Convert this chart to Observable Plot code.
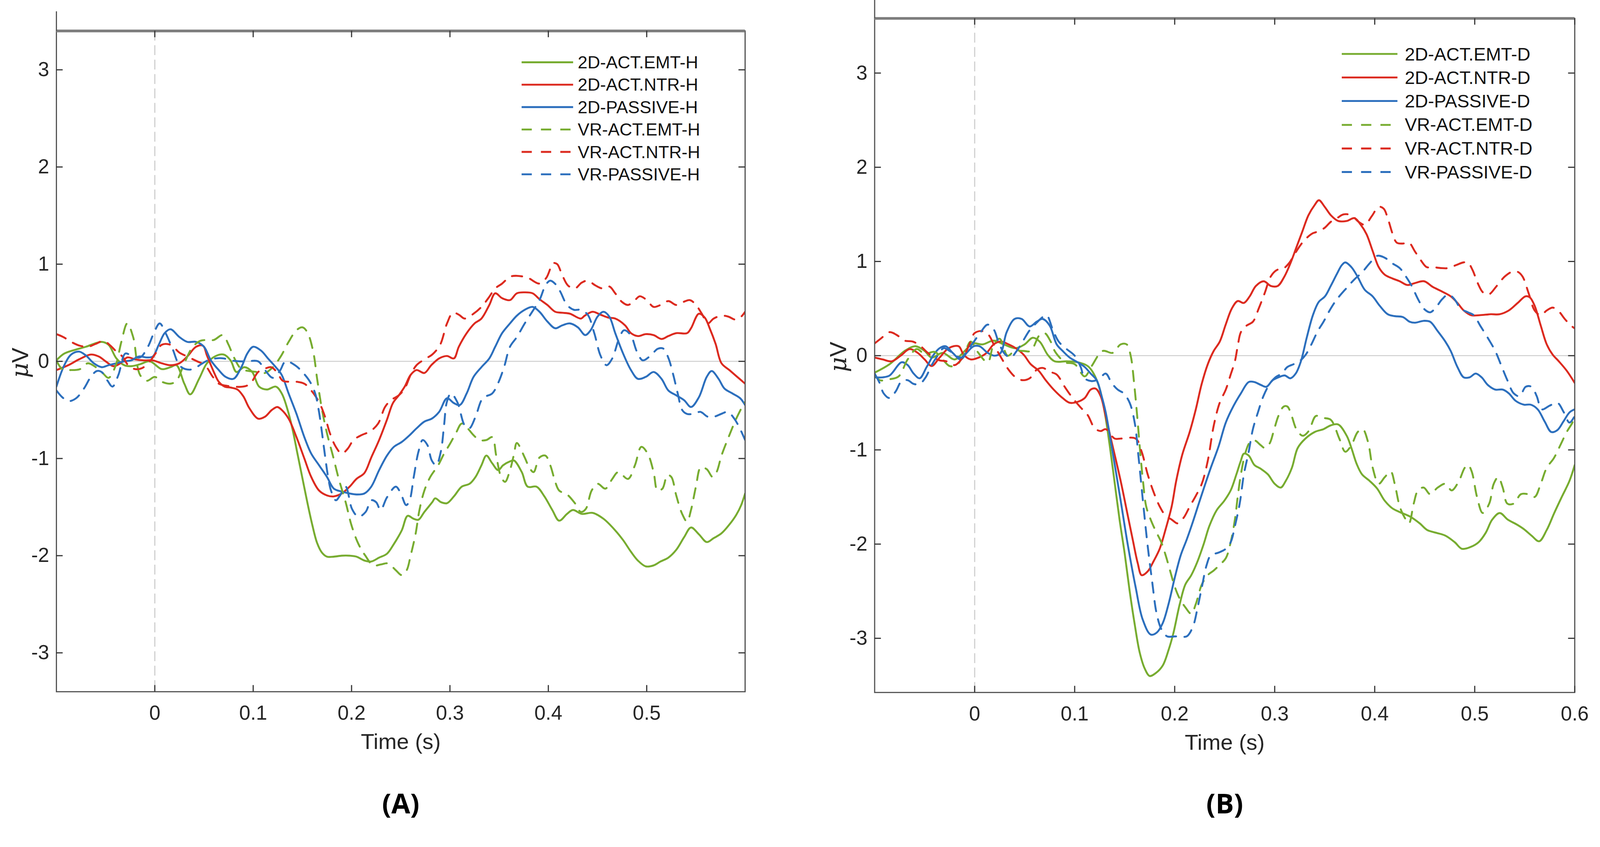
<!DOCTYPE html>
<html>
<head>
<meta charset="utf-8">
<script src="https://cdn.jsdelivr.net/npm/d3@7"></script>
<script src="https://cdn.jsdelivr.net/npm/@observablehq/plot@0.6"></script>
<style>
html, body { margin: 0; padding: 0; background: #fff; overflow: hidden; }
#wrap { position: relative; width: 4212px; height: 2169px; overflow: hidden; background: #fff; transform-origin: 0 0; }
.panel { position: absolute; top: 0; max-width: none !important; }
.legend { position: absolute; font-family: "Liberation Sans", Arial, sans-serif; color: #111; }
.legend .row { display: flex; align-items: center; white-space: nowrap; }
</style>
</head>
<body>
<div id="wrap"></div>
<script>
// ---------------- DATA (time in s, amplitude in µV) ----------------
const seriesNamesA = ["2D-ACT.EMT-H","2D-ACT.NTR-H","2D-PASSIVE-H","VR-ACT.EMT-H","VR-ACT.NTR-H","VR-PASSIVE-H"];
const seriesNamesB = ["2D-ACT.EMT-D","2D-ACT.NTR-D","2D-PASSIVE-D","VR-ACT.EMT-D","VR-ACT.NTR-D","VR-PASSIVE-D"];
const xTicksA = [0, 0.1, 0.2, 0.3, 0.4, 0.5];
const xTicksB = [0, 0.1, 0.2, 0.3, 0.4, 0.5, 0.6];
const yTicks = [-3, -2, -1, 0, 1, 2, 3];

const A_2D_EMT = [[-0.1,0.01],[-0.092,0.08],[-0.077,0.13],[-0.07,0.15],[-0.054,0.2],[-0.047,0.17],[-0.039,0.03],[-0.031,-0.04],[-0.024,-0.05],[-0.015,-0.03],[-0.005,0.0],[0.007,-0.08],[0.016,-0.06],[0.022,-0.04],[0.03,-0.23],[0.036,-0.34],[0.045,-0.18],[0.053,-0.02],[0.062,0.055],[0.07,0.07],[0.077,0.01],[0.083,-0.11],[0.091,-0.06],[0.099,-0.11],[0.106,-0.26],[0.114,-0.29],[0.123,-0.26],[0.129,-0.33],[0.135,-0.5],[0.14,-0.7],[0.145,-0.95],[0.15,-1.2],[0.155,-1.45],[0.16,-1.68],[0.165,-1.87],[0.17,-1.97],[0.175,-2.01],[0.182,-2.01],[0.19,-2.0],[0.198,-2.0],[0.205,-2.01],[0.213,-2.05],[0.22,-2.06],[0.228,-2.02],[0.236,-1.98],[0.243,-1.88],[0.251,-1.74],[0.257,-1.59],[0.263,-1.62],[0.268,-1.63],[0.274,-1.55],[0.282,-1.45],[0.285,-1.41],[0.291,-1.45],[0.297,-1.46],[0.304,-1.39],[0.312,-1.29],[0.32,-1.26],[0.326,-1.19],[0.332,-1.07],[0.337,-0.97],[0.343,-1.05],[0.349,-1.12],[0.354,-1.07],[0.361,-1.03],[0.365,-1.02],[0.373,-1.14],[0.379,-1.29],[0.388,-1.29],[0.396,-1.39],[0.404,-1.53],[0.411,-1.64],[0.419,-1.57],[0.425,-1.53],[0.434,-1.57],[0.445,-1.56],[0.456,-1.62],[0.468,-1.74],[0.476,-1.84],[0.484,-1.96],[0.491,-2.05],[0.499,-2.11],[0.507,-2.1],[0.514,-2.06],[0.522,-2.02],[0.53,-1.94],[0.538,-1.81],[0.545,-1.71],[0.553,-1.78],[0.561,-1.86],[0.568,-1.82],[0.576,-1.77],[0.584,-1.68],[0.591,-1.58],[0.596,-1.48],[0.6,-1.36]];

const A_2D_NTR = [[-0.1,-0.09],[-0.088,-0.04],[-0.077,0.02],[-0.065,0.07],[-0.057,0.05],[-0.05,0.0],[-0.042,-0.05],[-0.035,-0.02],[-0.028,0.04],[-0.02,0.02],[-0.011,0.01],[-0.002,0.01],[0.007,-0.02],[0.016,-0.04],[0.025,-0.02],[0.033,0.05],[0.042,0.15],[0.049,0.16],[0.053,0.06],[0.06,-0.11],[0.065,-0.21],[0.071,-0.26],[0.077,-0.27],[0.084,-0.29],[0.09,-0.36],[0.096,-0.48],[0.105,-0.59],[0.112,-0.57],[0.119,-0.5],[0.1245,-0.47],[0.129,-0.5],[0.136,-0.59],[0.144,-0.78],[0.152,-1.0],[0.159,-1.19],[0.167,-1.33],[0.175,-1.38],[0.182,-1.39],[0.19,-1.36],[0.198,-1.29],[0.205,-1.21],[0.213,-1.15],[0.22,-0.99],[0.228,-0.81],[0.236,-0.6],[0.242,-0.43],[0.248,-0.35],[0.254,-0.26],[0.26,-0.14],[0.266,-0.09],[0.274,-0.12],[0.281,-0.04],[0.289,0.03],[0.297,0.055],[0.304,0.03],[0.309,0.15],[0.317,0.29],[0.325,0.39],[0.332,0.44],[0.34,0.58],[0.346,0.7],[0.353,0.65],[0.361,0.63],[0.368,0.7],[0.376,0.71],[0.384,0.7],[0.391,0.64],[0.399,0.58],[0.407,0.51],[0.414,0.5],[0.422,0.49],[0.433,0.44],[0.437,0.47],[0.445,0.51],[0.453,0.48],[0.461,0.45],[0.468,0.44],[0.478,0.37],[0.484,0.29],[0.491,0.26],[0.499,0.28],[0.507,0.27],[0.515,0.23],[0.522,0.26],[0.53,0.29],[0.541,0.29],[0.545,0.34],[0.553,0.49],[0.559,0.45],[0.564,0.34],[0.57,0.18],[0.576,-0.02],[0.584,-0.09],[0.592,-0.16],[0.6,-0.23]];

const A_2D_PAS = [[-0.1,-0.26],[-0.092,-0.04],[-0.085,0.07],[-0.077,0.1],[-0.07,0.06],[-0.062,-0.02],[-0.054,-0.06],[-0.047,-0.04],[-0.039,-0.02],[-0.031,0.0],[-0.024,0.01],[-0.016,0.05],[-0.008,0.04],[-0.002,0.05],[0.004,0.17],[0.01,0.29],[0.016,0.33],[0.025,0.25],[0.033,0.2],[0.042,0.2],[0.05,0.15],[0.057,0.01],[0.065,-0.09],[0.072,-0.16],[0.08,-0.18],[0.088,-0.06],[0.094,0.08],[0.1,0.15],[0.108,0.11],[0.115,0.03],[0.123,-0.06],[0.129,-0.14],[0.136,-0.33],[0.144,-0.54],[0.152,-0.78],[0.159,-0.95],[0.167,-1.07],[0.175,-1.19],[0.182,-1.31],[0.19,-1.34],[0.198,-1.36],[0.205,-1.37],[0.213,-1.36],[0.22,-1.29],[0.228,-1.12],[0.236,-0.97],[0.243,-0.88],[0.251,-0.83],[0.259,-0.76],[0.266,-0.69],[0.274,-0.62],[0.2815,-0.59],[0.289,-0.52],[0.297,-0.38],[0.304,-0.43],[0.31,-0.45],[0.317,-0.33],[0.324,-0.16],[0.332,-0.06],[0.34,0.03],[0.346,0.15],[0.353,0.29],[0.361,0.39],[0.368,0.47],[0.376,0.53],[0.384,0.56],[0.391,0.51],[0.399,0.41],[0.407,0.34],[0.414,0.37],[0.422,0.39],[0.43,0.35],[0.4375,0.27],[0.443,0.32],[0.45,0.46],[0.456,0.51],[0.462,0.46],[0.468,0.29],[0.476,0.08],[0.484,-0.09],[0.491,-0.18],[0.499,-0.16],[0.507,-0.11],[0.515,-0.18],[0.522,-0.3],[0.53,-0.35],[0.538,-0.4],[0.545,-0.47],[0.553,-0.37],[0.561,-0.16],[0.566,-0.1],[0.573,-0.18],[0.579,-0.28],[0.587,-0.33],[0.595,-0.38],[0.6,-0.45]];

const A_VR_EMT = [[-0.1,0.01],[-0.094,-0.08],[-0.085,-0.09],[-0.076,-0.08],[-0.068,-0.02],[-0.06,-0.06],[-0.053,-0.12],[-0.047,-0.17],[-0.04,-0.05],[-0.034,0.2],[-0.028,0.39],[-0.022,0.25],[-0.015,-0.14],[-0.008,-0.2],[0.0,-0.16],[0.007,-0.21],[0.016,-0.23],[0.022,-0.2],[0.03,-0.02],[0.038,0.14],[0.046,0.21],[0.053,0.22],[0.06,0.22],[0.069,0.27],[0.075,0.17],[0.08,0.05],[0.088,-0.08],[0.096,-0.1],[0.104,-0.11],[0.112,-0.12],[0.12,-0.06],[0.128,0.05],[0.136,0.2],[0.144,0.32],[0.15,0.35],[0.155,0.3],[0.161,0.1],[0.165,-0.18],[0.17,-0.5],[0.175,-0.74],[0.181,-0.97],[0.187,-1.21],[0.194,-1.45],[0.2,-1.69],[0.207,-1.88],[0.214,-2.0],[0.222,-2.1],[0.23,-2.09],[0.237,-2.08],[0.245,-2.15],[0.251,-2.2],[0.256,-2.15],[0.26,-2.0],[0.265,-1.78],[0.269,-1.53],[0.274,-1.33],[0.28,-1.19],[0.288,-1.07],[0.294,-0.95],[0.3,-0.85],[0.306,-0.74],[0.312,-0.64],[0.318,-0.69],[0.324,-0.76],[0.33,-0.81],[0.337,-0.81],[0.343,-0.78],[0.347,-0.97],[0.352,-1.19],[0.356,-1.24],[0.361,-1.12],[0.365,-0.96],[0.368,-0.84],[0.376,-0.99],[0.3805,-1.09],[0.385,-1.14],[0.391,-0.99],[0.397,-0.97],[0.402,-1.07],[0.407,-1.24],[0.411,-1.33],[0.419,-1.37],[0.427,-1.46],[0.433,-1.55],[0.438,-1.52],[0.444,-1.33],[0.45,-1.26],[0.458,-1.31],[0.465,-1.21],[0.471,-1.14],[0.481,-1.21],[0.488,-1.07],[0.4945,-0.88],[0.501,-0.95],[0.507,-1.14],[0.511,-1.33],[0.516,-1.31],[0.521,-1.17],[0.525,-1.19],[0.53,-1.38],[0.536,-1.57],[0.541,-1.65],[0.545,-1.53],[0.55,-1.29],[0.555,-1.09],[0.561,-1.11],[0.567,-1.19],[0.571,-1.14],[0.576,-0.97],[0.584,-0.76],[0.591,-0.59],[0.598,-0.45],[0.6,-0.42]];

const A_VR_NTR = [[-0.1,0.28],[-0.093,0.25],[-0.085,0.2],[-0.076,0.16],[-0.068,0.15],[-0.06,0.18],[-0.052,0.21],[-0.045,0.16],[-0.039,0.1],[-0.033,0.05],[-0.027,-0.04],[-0.02,-0.08],[-0.013,-0.07],[-0.005,0.0],[0.002,0.1],[0.007,0.17],[0.016,0.17],[0.025,0.09],[0.033,0.05],[0.043,0.0],[0.051,-0.04],[0.059,-0.16],[0.065,-0.23],[0.072,-0.25],[0.08,-0.26],[0.09,-0.26],[0.097,-0.23],[0.105,-0.11],[0.111,-0.08],[0.118,-0.06],[0.124,-0.11],[0.13,-0.2],[0.136,-0.21],[0.144,-0.21],[0.152,-0.23],[0.159,-0.3],[0.167,-0.42],[0.173,-0.57],[0.178,-0.74],[0.184,-0.88],[0.19,-0.95],[0.196,-0.9],[0.202,-0.81],[0.21,-0.76],[0.219,-0.72],[0.227,-0.64],[0.234,-0.47],[0.24,-0.4],[0.248,-0.35],[0.254,-0.28],[0.26,-0.14],[0.266,-0.04],[0.274,0.02],[0.282,0.07],[0.29,0.17],[0.297,0.39],[0.303,0.5],[0.309,0.48],[0.315,0.44],[0.324,0.49],[0.332,0.56],[0.339,0.65],[0.346,0.75],[0.353,0.8],[0.361,0.87],[0.368,0.88],[0.379,0.86],[0.391,0.8],[0.398,0.86],[0.405,1.01],[0.409,1.0],[0.414,0.89],[0.42,0.78],[0.427,0.75],[0.434,0.81],[0.44,0.83],[0.448,0.78],[0.455,0.75],[0.462,0.77],[0.468,0.7],[0.475,0.61],[0.481,0.58],[0.488,0.63],[0.493,0.67],[0.5,0.63],[0.507,0.56],[0.514,0.58],[0.522,0.62],[0.53,0.58],[0.537,0.61],[0.544,0.63],[0.55,0.58],[0.556,0.49],[0.562,0.39],[0.568,0.44],[0.576,0.47],[0.583,0.46],[0.59,0.43],[0.596,0.46],[0.6,0.51]];

const A_VR_PAS = [[-0.1,-0.3],[-0.094,-0.37],[-0.088,-0.41],[-0.08,-0.38],[-0.072,-0.28],[-0.065,-0.16],[-0.059,-0.1],[-0.054,-0.11],[-0.048,-0.2],[-0.043,-0.26],[-0.037,-0.14],[-0.03,0.08],[-0.024,0.06],[-0.015,0.04],[-0.007,0.15],[-0.001,0.29],[0.005,0.39],[0.011,0.29],[0.018,0.13],[0.025,-0.04],[0.031,-0.08],[0.039,-0.08],[0.047,-0.03],[0.054,0.01],[0.062,0.03],[0.07,0.03],[0.077,0.01],[0.086,0.0],[0.094,0.0],[0.105,0.0],[0.112,-0.09],[0.12,-0.17],[0.127,-0.1],[0.133,0.0],[0.1425,-0.04],[0.15,-0.11],[0.1577,-0.21],[0.163,-0.33],[0.1669,-0.52],[0.17,-0.74],[0.173,-0.97],[0.176,-1.18],[0.1791,-1.33],[0.184,-1.43],[0.1883,-1.38],[0.194,-1.29],[0.2005,-1.52],[0.207,-1.6],[0.2143,-1.55],[0.22,-1.43],[0.225,-1.45],[0.2295,-1.53],[0.236,-1.4],[0.245,-1.29],[0.25,-1.36],[0.2555,-1.48],[0.259,-1.43],[0.2632,-1.19],[0.268,-0.93],[0.2723,-0.81],[0.277,-0.86],[0.2815,-1.02],[0.286,-1.07],[0.2907,-0.93],[0.294,-0.66],[0.2968,-0.42],[0.301,-0.33],[0.3075,-0.42],[0.315,-0.66],[0.3197,-0.69],[0.326,-0.57],[0.3334,-0.38],[0.343,-0.33],[0.3487,-0.23],[0.355,-0.06],[0.361,0.15],[0.368,0.25],[0.376,0.39],[0.3836,0.51],[0.391,0.63],[0.3975,0.79],[0.402,0.83],[0.4067,0.8],[0.412,0.72],[0.419,0.58],[0.426,0.53],[0.4329,0.53],[0.44,0.48],[0.4467,0.29],[0.453,0.06],[0.4591,-0.04],[0.465,0.03],[0.4714,0.22],[0.477,0.32],[0.4837,0.27],[0.49,0.1],[0.496,0.01],[0.504,0.06],[0.5114,0.13],[0.517,0.13],[0.5222,0.03],[0.527,-0.14],[0.5315,-0.33],[0.536,-0.5],[0.5407,-0.54],[0.548,-0.54],[0.5545,-0.52],[0.562,-0.57],[0.5684,-0.57],[0.576,-0.54],[0.5823,-0.52],[0.589,-0.59],[0.5946,-0.69],[0.6,-0.81]];

const B_2D_EMT = [[-0.1,-0.18],[-0.085,-0.09],[-0.07,0.05],[-0.059,0.1],[-0.05,0.05],[-0.043,-0.02],[-0.032,0.03],[-0.02,-0.04],[-0.01,0.05],[-0.002,0.13],[0.008,0.12],[0.019,0.16],[0.029,0.12],[0.041,0.08],[0.05,0.12],[0.058,0.19],[0.065,0.15],[0.073,0.01],[0.08,-0.06],[0.092,-0.06],[0.103,-0.07],[0.113,-0.11],[0.119,-0.19],[0.125,-0.35],[0.13,-0.6],[0.135,-0.95],[0.14,-1.35],[0.145,-1.75],[0.15,-2.1],[0.155,-2.5],[0.16,-2.85],[0.165,-3.15],[0.17,-3.32],[0.175,-3.4],[0.181,-3.37],[0.188,-3.29],[0.194,-3.12],[0.1986,-2.95],[0.205,-2.64],[0.2106,-2.43],[0.2166,-2.33],[0.2226,-2.19],[0.229,-2.0],[0.2346,-1.81],[0.242,-1.64],[0.2496,-1.54],[0.256,-1.43],[0.2617,-1.26],[0.266,-1.12],[0.2692,-1.04],[0.274,-1.06],[0.2797,-1.16],[0.286,-1.2],[0.2932,-1.26],[0.3,-1.36],[0.306,-1.4],[0.311,-1.33],[0.3172,-1.19],[0.323,-0.98],[0.3307,-0.88],[0.34,-0.81],[0.3488,-0.78],[0.356,-0.74],[0.3635,-0.73],[0.372,-0.85],[0.3767,-0.98],[0.382,-1.15],[0.3873,-1.26],[0.395,-1.33],[0.4024,-1.41],[0.41,-1.54],[0.4176,-1.62],[0.425,-1.66],[0.4357,-1.71],[0.445,-1.78],[0.4524,-1.85],[0.4615,-1.88],[0.4706,-1.91],[0.48,-1.98],[0.4872,-2.05],[0.496,-2.03],[0.5039,-1.98],[0.511,-1.88],[0.5175,-1.74],[0.525,-1.67],[0.533,-1.74],[0.5417,-1.79],[0.549,-1.84],[0.5568,-1.91],[0.5644,-1.97],[0.572,-1.85],[0.5795,-1.67],[0.587,-1.5],[0.5947,-1.33],[0.6,-1.16]];

const B_2D_NTR = [[-0.1,-0.02],[-0.092,-0.04],[-0.083,-0.06],[-0.074,0.0],[-0.065,0.07],[-0.057,0.03],[-0.05,-0.04],[-0.043,-0.11],[-0.035,-0.02],[-0.026,0.08],[-0.016,0.1],[-0.011,0.01],[-0.004,-0.04],[0.004,-0.02],[0.012,0.03],[0.019,0.12],[0.026,0.15],[0.034,0.12],[0.041,0.08],[0.049,0.01],[0.056,-0.09],[0.064,-0.16],[0.071,-0.26],[0.079,-0.36],[0.088,-0.45],[0.095,-0.5],[0.103,-0.49],[0.11,-0.45],[0.116,-0.36],[0.121,-0.35],[0.126,-0.43],[0.131,-0.64],[0.136,-0.87],[0.146,-1.33],[0.152,-1.64],[0.158,-1.95],[0.163,-2.2],[0.167,-2.33],[0.173,-2.29],[0.179,-2.18],[0.185,-2.05],[0.191,-1.84],[0.197,-1.6],[0.2015,-1.33],[0.2076,-1.05],[0.215,-0.81],[0.2211,-0.57],[0.227,-0.3],[0.2331,-0.09],[0.239,0.05],[0.2451,0.15],[0.251,0.33],[0.2571,0.5],[0.263,0.58],[0.2692,0.56],[0.275,0.63],[0.2812,0.74],[0.289,0.79],[0.2962,0.74],[0.303,0.74],[0.3097,0.84],[0.3157,0.98],[0.3217,1.15],[0.3277,1.32],[0.3337,1.49],[0.34,1.6],[0.3442,1.65],[0.35,1.58],[0.3562,1.49],[0.3635,1.43],[0.372,1.43],[0.3797,1.46],[0.386,1.39],[0.3918,1.29],[0.398,1.11],[0.404,0.94],[0.41,0.86],[0.4176,0.82],[0.425,0.79],[0.4327,0.75],[0.44,0.77],[0.4494,0.79],[0.458,0.73],[0.4675,0.68],[0.476,0.63],[0.4827,0.56],[0.489,0.48],[0.4963,0.43],[0.505,0.43],[0.516,0.44],[0.525,0.44],[0.5341,0.48],[0.543,0.56],[0.5508,0.63],[0.555,0.62],[0.5599,0.53],[0.566,0.32],[0.572,0.12],[0.578,0.01],[0.5841,-0.06],[0.592,-0.16],[0.6,-0.29]];

const B_2D_PAS = [[-0.1,-0.23],[-0.092,-0.23],[-0.085,-0.21],[-0.073,-0.07],[-0.067,-0.1],[-0.061,-0.19],[-0.055,-0.24],[-0.048,-0.12],[-0.041,0.01],[-0.035,0.08],[-0.029,0.1],[-0.022,0.03],[-0.014,-0.04],[-0.008,0.03],[-0.001,0.1],[0.005,0.1],[0.013,0.03],[0.02,0.0],[0.026,0.03],[0.032,0.25],[0.04,0.39],[0.047,0.39],[0.055,0.31],[0.062,0.36],[0.068,0.39],[0.075,0.32],[0.082,0.12],[0.088,0.05],[0.095,-0.02],[0.103,-0.07],[0.11,-0.12],[0.116,-0.19],[0.122,-0.26],[0.127,-0.43],[0.131,-0.6],[0.136,-0.9],[0.146,-1.54],[0.153,-2.0],[0.161,-2.46],[0.168,-2.8],[0.176,-2.96],[0.182,-2.94],[0.188,-2.84],[0.194,-2.63],[0.2,-2.36],[0.206,-2.12],[0.2121,-1.95],[0.218,-1.77],[0.2241,-1.57],[0.23,-1.38],[0.2361,-1.19],[0.244,-0.96],[0.2511,-0.71],[0.259,-0.53],[0.2662,-0.4],[0.274,-0.28],[0.2797,-0.28],[0.286,-0.31],[0.2917,-0.33],[0.298,-0.26],[0.3037,-0.23],[0.31,-0.21],[0.3157,-0.24],[0.321,-0.19],[0.3262,-0.06],[0.332,0.19],[0.3382,0.43],[0.344,0.57],[0.3503,0.63],[0.356,0.74],[0.3623,0.87],[0.367,0.96],[0.3706,0.99],[0.3767,0.94],[0.3828,0.84],[0.39,0.7],[0.3979,0.63],[0.405,0.53],[0.413,0.44],[0.42,0.42],[0.4282,0.41],[0.435,0.36],[0.4403,0.35],[0.449,0.37],[0.4554,0.36],[0.463,0.26],[0.4706,0.15],[0.476,0.05],[0.4827,-0.12],[0.489,-0.23],[0.4948,-0.23],[0.501,-0.19],[0.5069,-0.23],[0.513,-0.31],[0.5205,-0.36],[0.528,-0.36],[0.5341,-0.4],[0.541,-0.48],[0.5493,-0.52],[0.556,-0.52],[0.563,-0.57],[0.57,-0.7],[0.5765,-0.81],[0.5826,-0.79],[0.5886,-0.7],[0.595,-0.6],[0.6,-0.57]];

const B_VR_EMT = [[-0.1,-0.2],[-0.095,-0.26],[-0.085,-0.25],[-0.076,-0.22],[-0.067,-0.04],[-0.058,0.07],[-0.05,0.02],[-0.04,0.04],[-0.032,-0.04],[-0.025,-0.11],[-0.018,-0.1],[-0.01,0.03],[-0.004,0.15],[0.003,0.04],[0.013,-0.07],[0.019,0.12],[0.025,0.18],[0.033,0.0],[0.04,0.05],[0.049,0.05],[0.056,0.05],[0.065,0.22],[0.07,0.24],[0.076,0.15],[0.08,0.05],[0.085,-0.02],[0.09,-0.07],[0.1,-0.09],[0.11,-0.22],[0.117,-0.11],[0.128,0.05],[0.138,0.03],[0.146,0.12],[0.152,0.12],[0.156,0.0],[0.1595,-0.3],[0.1625,-0.64],[0.1655,-1.02],[0.1685,-1.35],[0.1715,-1.6],[0.176,-1.74],[0.181,-1.86],[0.1866,-1.98],[0.191,-2.12],[0.1956,-2.29],[0.2,-2.45],[0.2046,-2.57],[0.2106,-2.67],[0.2166,-2.74],[0.221,-2.64],[0.2271,-2.43],[0.233,-2.33],[0.2391,-2.28],[0.245,-2.22],[0.2511,-2.15],[0.256,-1.98],[0.2602,-1.74],[0.263,-1.5],[0.2662,-1.26],[0.271,-1.02],[0.2752,-0.92],[0.28,-0.9],[0.286,-0.95],[0.2902,-0.98],[0.295,-0.93],[0.299,-0.8],[0.3037,-0.64],[0.309,-0.54],[0.3127,-0.54],[0.317,-0.64],[0.3217,-0.78],[0.328,-0.85],[0.334,-0.8],[0.3412,-0.64],[0.348,-0.66],[0.356,-0.68],[0.3646,-0.88],[0.3706,-1.02],[0.3767,-0.95],[0.383,-0.81],[0.388,-0.78],[0.3934,-0.92],[0.398,-1.19],[0.404,-1.36],[0.41,-1.29],[0.416,-1.23],[0.42,-1.36],[0.425,-1.6],[0.43,-1.72],[0.4342,-1.78],[0.439,-1.57],[0.4433,-1.43],[0.449,-1.4],[0.4554,-1.47],[0.463,-1.4],[0.4706,-1.36],[0.477,-1.43],[0.4842,-1.33],[0.49,-1.19],[0.4933,-1.16],[0.497,-1.23],[0.5023,-1.5],[0.508,-1.67],[0.5145,-1.57],[0.519,-1.36],[0.5235,-1.29],[0.528,-1.4],[0.5326,-1.57],[0.539,-1.57],[0.5462,-1.47],[0.553,-1.47],[0.5599,-1.5],[0.566,-1.36],[0.572,-1.19],[0.579,-1.09],[0.5856,-0.95],[0.592,-0.81],[0.5977,-0.71],[0.6,-0.64]];

const B_VR_NTR = [[-0.1,0.13],[-0.094,0.18],[-0.085,0.25],[-0.078,0.22],[-0.07,0.16],[-0.062,0.15],[-0.055,0.11],[-0.048,0.04],[-0.041,-0.02],[-0.035,-0.05],[-0.028,-0.06],[-0.02,-0.1],[-0.012,-0.02],[-0.006,0.1],[0.0,0.24],[0.008,0.26],[0.014,0.22],[0.02,0.1],[0.027,-0.03],[0.034,-0.15],[0.041,-0.23],[0.048,-0.26],[0.055,-0.24],[0.062,-0.15],[0.068,-0.13],[0.075,-0.17],[0.082,-0.2],[0.09,-0.33],[0.098,-0.45],[0.106,-0.55],[0.113,-0.63],[0.12,-0.77],[0.126,-0.8],[0.131,-0.78],[0.14,-0.88],[0.146,-0.88],[0.161,-0.88],[0.167,-1.02],[0.173,-1.26],[0.179,-1.45],[0.185,-1.6],[0.191,-1.7],[0.197,-1.74],[0.203,-1.78],[0.209,-1.72],[0.2151,-1.6],[0.221,-1.49],[0.2271,-1.36],[0.233,-1.12],[0.2391,-0.74],[0.245,-0.5],[0.2511,-0.36],[0.256,-0.2],[0.2602,-0.06],[0.263,0.1],[0.2662,0.25],[0.272,0.32],[0.2782,0.36],[0.284,0.5],[0.2902,0.67],[0.296,0.84],[0.3022,0.91],[0.308,0.92],[0.3142,0.98],[0.32,1.08],[0.3262,1.18],[0.332,1.25],[0.3382,1.3],[0.344,1.32],[0.3503,1.36],[0.356,1.42],[0.3623,1.46],[0.369,1.5],[0.3767,1.49],[0.384,1.42],[0.3903,1.39],[0.397,1.48],[0.404,1.58],[0.409,1.56],[0.413,1.46],[0.418,1.29],[0.422,1.2],[0.428,1.19],[0.4342,1.2],[0.44,1.11],[0.4463,1.01],[0.452,0.94],[0.4584,0.94],[0.466,0.93],[0.4736,0.93],[0.481,0.96],[0.4887,0.99],[0.493,0.99],[0.4978,0.91],[0.503,0.77],[0.5084,0.67],[0.514,0.65],[0.522,0.74],[0.53,0.84],[0.5372,0.89],[0.543,0.89],[0.5478,0.84],[0.554,0.66],[0.5599,0.48],[0.566,0.43],[0.572,0.48],[0.578,0.51],[0.5841,0.47],[0.59,0.39],[0.5962,0.32],[0.6,0.29]];

const B_VR_PAS = [[-0.1,-0.19],[-0.095,-0.29],[-0.091,-0.4],[-0.085,-0.45],[-0.079,-0.38],[-0.073,-0.27],[-0.067,-0.26],[-0.061,-0.3],[-0.055,-0.3],[-0.049,-0.23],[-0.043,-0.1],[-0.037,0.0],[-0.031,0.08],[-0.025,0.05],[-0.019,0.0],[-0.013,-0.02],[-0.007,0.06],[0.0,0.16],[0.006,0.25],[0.013,0.33],[0.019,0.28],[0.024,0.14],[0.03,0.02],[0.036,-0.02],[0.042,0.05],[0.048,0.15],[0.055,0.27],[0.062,0.35],[0.068,0.41],[0.072,0.43],[0.078,0.28],[0.084,0.15],[0.092,0.07],[0.1,0.0],[0.106,-0.12],[0.11,-0.24],[0.117,-0.27],[0.124,-0.25],[0.131,-0.19],[0.137,-0.29],[0.143,-0.36],[0.149,-0.4],[0.155,-0.5],[0.16,-0.71],[0.164,-1.09],[0.1685,-1.57],[0.173,-2.02],[0.1775,-2.4],[0.182,-2.74],[0.187,-2.91],[0.1926,-2.98],[0.2,-2.98],[0.206,-2.98],[0.212,-2.98],[0.2181,-2.88],[0.223,-2.67],[0.2271,-2.46],[0.232,-2.22],[0.2361,-2.12],[0.244,-2.09],[0.2511,-2.05],[0.256,-1.98],[0.2602,-1.81],[0.265,-1.57],[0.2692,-1.26],[0.274,-1.02],[0.2782,-0.78],[0.283,-0.61],[0.2887,-0.43],[0.295,-0.3],[0.3007,-0.23],[0.307,-0.19],[0.3127,-0.12],[0.319,-0.09],[0.3247,-0.06],[0.331,0.01],[0.3367,0.12],[0.343,0.26],[0.3488,0.36],[0.356,0.5],[0.3623,0.6],[0.372,0.72],[0.3797,0.81],[0.387,0.88],[0.3949,0.98],[0.4024,1.06],[0.41,1.04],[0.4176,0.98],[0.425,0.93],[0.4312,0.84],[0.437,0.74],[0.4433,0.6],[0.449,0.5],[0.4554,0.46],[0.461,0.51],[0.4675,0.6],[0.4736,0.65],[0.4797,0.6],[0.486,0.5],[0.4933,0.46],[0.499,0.43],[0.5054,0.32],[0.513,0.19],[0.5205,0.05],[0.526,-0.09],[0.5326,-0.26],[0.539,-0.4],[0.5448,-0.43],[0.551,-0.33],[0.5568,-0.33],[0.562,-0.43],[0.567,-0.57],[0.575,-0.53],[0.5826,-0.5],[0.589,-0.6],[0.5947,-0.71],[0.6,-0.64]];

// ---------------- STYLE ----------------
const GREEN = "#77ac30", RED = "#dc2a1f", BLUE = "#2c6fbd";
const seriesColors = [GREEN, RED, BLUE, GREEN, RED, BLUE];
const seriesDashed = [false, false, false, true, true, true];
const FONT = '"Liberation Sans", Arial, Helvetica, sans-serif';

function makePanel(cfg) {
  const plotW = cfg.width - cfg.marginLeft - cfg.marginRight;
  const plotH = cfg.height - cfg.marginTop - cfg.marginBottom;
  const tickLen = 17;
  const marks = [
    Plot.ruleY([0], {stroke: "#cfcfcf", strokeWidth: 2.5}),
    Plot.ruleX([0], {stroke: "#cfcfcf", strokeWidth: 3, strokeDasharray: "26,12"}),
    ...cfg.series.map((s, i) => Plot.line(s, {
      x: d => d[0], y: d => d[1],
      stroke: seriesColors[i], strokeWidth: 5,
      strokeDasharray: seriesDashed[i] ? "27,22" : null,
      curve: "catmull-rom", clip: true
    })),
    Plot.frame({stroke: "#505050", strokeWidth: 3}),
    Plot.ruleY([cfg.yDomain[1]], {stroke: "#7d7d7d", strokeWidth: 7}),
    Plot.ruleX([cfg.xDomain[0]], {y1: cfg.yDomain[1], y2: cfg.yDomain[1] + cfg.topExt, stroke: "#505050", strokeWidth: 3}),
    Plot.tickY(yTicks, {y: d => d, stroke: "#333", strokeWidth: 3, insetRight: plotW - tickLen}),
    Plot.tickY(yTicks, {y: d => d, stroke: "#333", strokeWidth: 3, insetLeft: plotW - tickLen}),
    Plot.tickX(cfg.xTicks, {x: d => d, stroke: "#333", strokeWidth: 3, insetTop: plotH - tickLen}),
    Plot.tickX(cfg.xTicks, {x: d => d, stroke: "#333", strokeWidth: 3, insetBottom: plotH - tickLen}),
    Plot.axisX({ticks: cfg.xTicks, tickSize: 0, tickPadding: 36, fontSize: 53, tickFormat: d => String(d), label: null}),
    Plot.axisY({ticks: yTicks, tickSize: 0, tickPadding: 19, fontSize: 53, tickFormat: d => String(d), label: null}),
    Plot.text(["Time (s)"], {text: d => d, frameAnchor: "bottom", lineAnchor: "middle", textAnchor: "middle", dy: 132, fontSize: 58}),
    // y label: italic µ followed by upright V, read bottom-to-top
    Plot.text(["\u03bc"], {text: d => d, frameAnchor: "left", lineAnchor: "middle", textAnchor: "end", dx: -94, dy: 4, rotate: -90, fontSize: 62, fontStyle: "italic", fontFamily: '"DejaVu Serif", "Liberation Serif", serif'}),
    Plot.text(["V"], {text: d => d, frameAnchor: "left", lineAnchor: "middle", textAnchor: "start", dx: -94, dy: 4, rotate: -90, fontSize: 60}),
    Plot.text([cfg.panelLabel], {text: d => d, frameAnchor: "bottom", lineAnchor: "middle", textAnchor: "middle", dy: cfg.labelDy, fontSize: 72, fontWeight: "bold", fontFamily: '"Open Sans", "Noto Sans", sans-serif', fill: "#000"})
  ];
  return Plot.plot({
    width: cfg.width, height: cfg.height,
    marginLeft: cfg.marginLeft, marginRight: cfg.marginRight,
    marginTop: cfg.marginTop, marginBottom: cfg.marginBottom,
    x: {domain: cfg.xDomain, label: null},
    y: {domain: cfg.yDomain, label: null},
    style: {fontFamily: FONT, color: "#262626", background: "transparent", overflow: "visible"},
    marks
  });
}

function makeLegend(cfg) {
  const div = d3.create("div").attr("class", "legend")
    .style("left", cfg.left + "px").style("top", cfg.top + "px")
    .style("font-size", cfg.fontSize + "px");
  cfg.names.forEach((name, i) => {
    const row = div.append("div").attr("class", "row").style("height", cfg.rowH + "px");
    const svg = row.append("svg").attr("width", cfg.lineW).attr("height", 12);
    svg.append("line").attr("x1", 0).attr("x2", cfg.lineW).attr("y1", 6).attr("y2", 6)
      .attr("stroke", seriesColors[i]).attr("stroke-width", 5)
      .attr("stroke-dasharray", seriesDashed[i] ? "27,24" : null);
    row.append("span").style("margin-left", cfg.gap + "px").text(name);
  });
  return div.node();
}

const wrap = document.getElementById("wrap");

const pA = makePanel({
  series: [A_2D_EMT, A_2D_NTR, A_2D_PAS, A_VR_EMT, A_VR_NTR, A_VR_PAS],
  xDomain: [-0.1, 0.6], yDomain: [-3.4, 3.4], xTicks: xTicksA,
  width: 2106, height: 2169, marginLeft: 148, marginRight: 145, marginTop: 81, marginBottom: 348,
  topExt: 0.2, panelLabel: "(A)", labelDy: 297
});
pA.classList.add("panel"); pA.style.left = "0px";
wrap.appendChild(pA);

const pB = makePanel({
  series: [B_2D_EMT, B_2D_NTR, B_2D_PAS, B_VR_EMT, B_VR_NTR, B_VR_PAS],
  xDomain: [-0.1, 0.6], yDomain: [-3.575, 3.58], xTicks: xTicksB,
  width: 2106, height: 2169, marginLeft: 196, marginRight: 67, marginTop: 48, marginBottom: 346,
  topExt: 0.2, panelLabel: "(B)", labelDy: 295
});
pB.classList.add("panel"); pB.style.left = "2106px";
wrap.appendChild(pB);

wrap.appendChild(makeLegend({names: seriesNamesA, left: 1373, top: 134, rowH: 59, lineW: 136, gap: 12, fontSize: 46}));
wrap.appendChild(makeLegend({names: seriesNamesB, left: 3532, top: 111, rowH: 62.2, lineW: 147, gap: 19, fontSize: 48}));

// the 4212x2169 layout is scaled down uniformly if the real viewport is smaller
function fit() {
  const s = Math.min(window.innerWidth / 4212, window.innerHeight / 2169);
  wrap.style.transform = s < 0.999 ? `scale(${s})` : "";
}
fit();
window.addEventListener("resize", fit);
</script>
</body>
</html>
